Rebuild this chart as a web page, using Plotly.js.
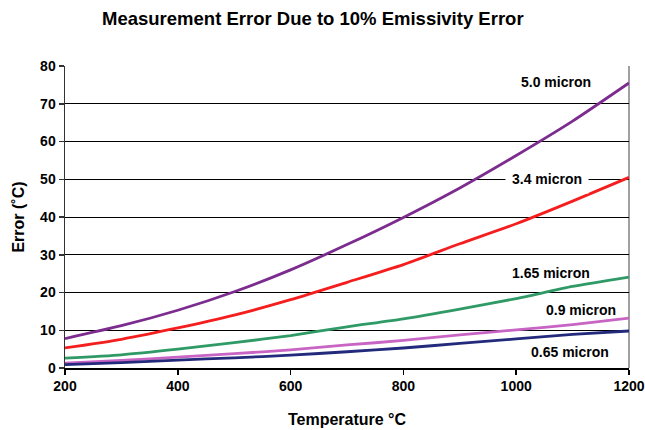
<!DOCTYPE html>
<html>
<head>
<meta charset="utf-8">
<script src="https://cdn.plot.ly/plotly-3.0.1.min.js"></script>
<style>html,body{margin:0;padding:0;background:#fff;}#chart{width:645px;height:430px;}</style>
</head>
<body>
<div id="chart"></div>
<script>
const temperature = [200, 300, 400, 500, 600, 700, 800, 900, 1000, 1100, 1200];
const err50 = [7.8, 11.2, 15.3, 20.2, 26.0, 32.7, 39.9, 47.7, 56.3, 65.4, 75.5];
const err34 = [5.3, 7.6, 10.6, 14.0, 18.1, 22.7, 27.4, 32.9, 38.2, 44.2, 50.5];
const err165 = [2.6, 3.5, 5.0, 6.7, 8.6, 10.9, 13.0, 15.6, 18.4, 21.6, 24.1];
const err09 = [1.3, 2.0, 2.9, 3.8, 4.8, 6.1, 7.3, 8.8, 10.1, 11.5, 13.2];
const err065 = [0.9, 1.4, 2.1, 2.7, 3.4, 4.3, 5.3, 6.5, 7.7, 8.9, 9.8];
const seriesNames = ['5.0 micron', '3.4 micron', '1.65 micron', '0.9 micron', '0.65 micron'];
const xTicks = [200, 400, 600, 800, 1000, 1200];
const yTicks = [0, 10, 20, 30, 40, 50, 60, 70, 80];

const colors = ['#7B2C8E', '#F51E1E', '#2F9A66', '#C864C4', '#232A7C'];
const seriesData = [err50, err34, err165, err09, err065];

const traces = seriesData.map((ys, i) => ({
  x: temperature, y: ys, type: 'scatter', mode: 'lines', name: seriesNames[i],
  line: {color: colors[i], width: 2.8, shape: 'spline', smoothing: 0.6}, hoverinfo: 'skip'
}));

const labelPos = [
  {x: 1071, y: 75.7, bg: null},
  {x: 1055, y: 50, bg: '#ffffff'},
  {x: 1062, y: 25.2, bg: null},
  {x: 1114, y: 15.4, bg: null},
  {x: 1096, y: 4.3, bg: null}
];
const font = 'Liberation Sans, Arial, sans-serif';
const annotations = seriesNames.map((n, i) => {
  const a = {x: labelPos[i].x, y: labelPos[i].y, xref: 'x', yref: 'y', text: n, showarrow: false,
    xanchor: 'center', yanchor: 'middle', font: {family: font, size: 14, color: '#000', weight: 'bold'}};
  if (labelPos[i].bg) { a.bgcolor = labelPos[i].bg; a.borderpad = 6; }
  return a;
});

const layout = {
  width: 645, height: 430,
  margin: {l: 65, r: 16, t: 66, b: 62},
  paper_bgcolor: '#fff', plot_bgcolor: '#fff',
  showlegend: false,
  font: {family: font, color: '#000'},
  title: {text: 'Measurement Error Due to 10% Emissivity Error', xref: 'container', yref: 'container',
    x: 0.485, y: 0.958, xanchor: 'center', yanchor: 'middle',
    font: {family: font, size: 18.5, color: '#000', weight: 'bold'}},
  xaxis: {range: [200, 1200], tickvals: xTicks, ticktext: xTicks.map(String),
    showgrid: false, zeroline: false, showline: true, linecolor: '#000', linewidth: 1.5,
    ticks: 'outside', ticklen: 5, tickcolor: '#000', tickwidth: 1.5,
    tickfont: {family: font, size: 14, color: '#000', weight: 'bold'},
    title: {text: 'Temperature °C', standoff: 20, font: {family: font, size: 16, color: '#000', weight: 'bold'}}},
  yaxis: {range: [0, 80], tickvals: yTicks, ticktext: yTicks.map(String),
    showgrid: true, gridcolor: '#000', gridwidth: 1, zeroline: false,
    showline: true, linecolor: '#333', linewidth: 1.5,
    ticks: 'outside', ticklen: 5, tickcolor: '#333', tickwidth: 1.5,
    tickfont: {family: font, size: 14, color: '#000', weight: 'bold'},
    title: {text: 'Error (˚C)', standoff: 11, font: {family: font, size: 16, color: '#000', weight: 'bold'}}},
  annotations: annotations,
  shapes: [{type: 'line', xref: 'paper', yref: 'paper', x0: 1, x1: 1, y0: 0, y1: 1,
    line: {color: '#808080', width: 1.5}, layer: 'below'}]
};

Plotly.newPlot('chart', traces, layout, {displayModeBar: false, staticPlot: true});
</script>
</body>
</html>
